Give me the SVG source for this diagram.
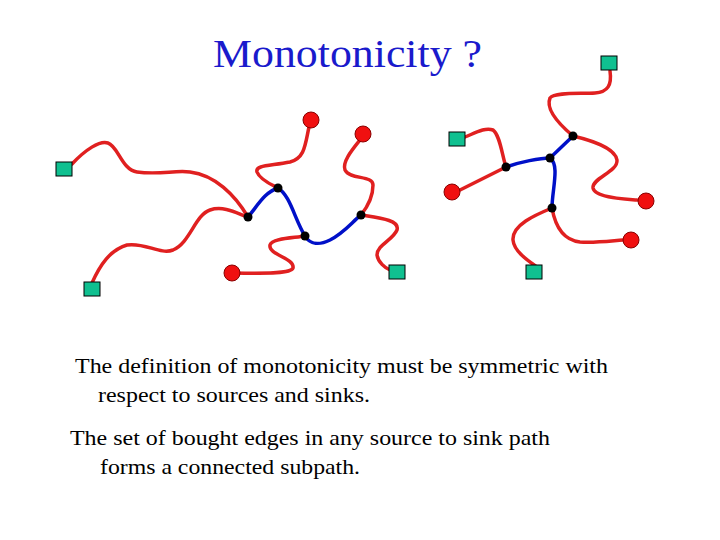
<svg xmlns="http://www.w3.org/2000/svg" width="720" height="540" viewBox="0 0 720 540">
<style>
.r{fill:none;stroke:#e02020;stroke-width:3.5;stroke-linecap:round}
.b{fill:none;stroke:#0010c8;stroke-width:3.5;stroke-linecap:round}
.sq{fill:#10c090;stroke:#000;stroke-width:1}
.ci{fill:#f01010;stroke:#800;stroke-width:1}
.j{fill:#000}
text{font-family:'Liberation Serif','Times New Roman','DejaVu Serif',serif}
.t{font-size:22px;fill:#000}
.h{font-size:40px;fill:#1a1acc}
</style>
<rect width="720" height="540" fill="#fff"/>
<text class="h" x="213" y="67" textLength="269" lengthAdjust="spacingAndGlyphs">Monotonicity ?</text>
<g id="connectors">
<path class="r" d="M72,164 C85,150 100,140 108,143 C118,146 122,170 137,172 C160,175 175,170 190,172 C215,175 235,195 248,217"/>
<path class="r" d="M92,283 C100,265 110,250 127,245 C145,242 160,255 173,250 C190,243 195,215 210,210 C225,205 240,215 248,217"/>
<path class="r" d="M309,127 C305,145 305,158 290,162 C270,166 255,165 257,172 C260,180 272,185 278,188"/>
<path class="r" d="M360,140 C352,150 342,162 345,170 C350,180 373,175 373,185 C373,200 365,210 361,215"/>
<path class="r" d="M361,215 C380,218 400,220 397,230 C393,240 377,245 377,255 C378,262 385,268 390,270"/>
<path class="r" d="M232,273 C255,273 290,275 293,268 C295,258 268,255 270,245 C272,238 295,238 305,236"/>
<path class="b" d="M248,217 C258,205 265,192 278,188 C290,195 295,220 305,236 C310,245 320,245 330,240 C345,232 352,222 361,215"/>
<path class="r" d="M610,71 C612,85 608,92 595,93 C580,94 555,92 550,98 C545,110 560,125 573,136"/>
<path class="r" d="M573,136 C590,140 615,148 617,160 C618,172 592,178 593,188 C595,198 625,199 637,200"/>
<path class="r" d="M465,137 C475,133 485,127 493,130 C500,135 502,155 506,167"/>
<path class="r" d="M460,190 L506,167"/>
<path class="b" d="M506,167 C520,162 540,158 550,158 L573,136 M550,158 C560,165 552,190 552,208"/>
<path class="r" d="M552,208 C535,215 512,225 513,240 C514,252 530,262 537,267"/>
<path class="r" d="M552,208 C555,225 562,240 580,242 C595,243 610,241 623,240"/>
</g>
<g id="nodes">
<g id="s1"><rect class="sq" x="56" y="162" width="16" height="14"/></g>
<g id="s2"><rect class="sq" x="84" y="282" width="16" height="14"/></g>
<g id="s3"><rect class="sq" x="389" y="265" width="16" height="14"/></g>
<g id="s4"><rect class="sq" x="601" y="56" width="16" height="14"/></g>
<g id="s5"><rect class="sq" x="449" y="132" width="16" height="14"/></g>
<g id="s6"><rect class="sq" x="526" y="265" width="16" height="14"/></g>
<g id="c1"><circle class="ci" cx="311" cy="120" r="8"/></g>
<g id="c2"><circle class="ci" cx="363" cy="134" r="8"/></g>
<g id="c3"><circle class="ci" cx="232" cy="273" r="8"/></g>
<g id="c4"><circle class="ci" cx="452" cy="192" r="8"/></g>
<g id="c5"><circle class="ci" cx="646" cy="201" r="8"/></g>
<g id="c6"><circle class="ci" cx="631" cy="240" r="8"/></g>
<g id="junctions">
<circle class="j" cx="248" cy="217" r="4.5"/><circle class="j" cx="278" cy="188" r="4.5"/>
<circle class="j" cx="305" cy="236" r="4.5"/><circle class="j" cx="361" cy="215" r="4.5"/>
<circle class="j" cx="506" cy="167" r="4.5"/><circle class="j" cx="550" cy="158" r="4.5"/>
<circle class="j" cx="573" cy="136" r="4.5"/><circle class="j" cx="552" cy="208" r="4.5"/>
</g>
</g>
<text class="t" x="75" y="373" textLength="533" lengthAdjust="spacingAndGlyphs">The definition of monotonicity must be symmetric with</text>
<text class="t" x="98" y="402" textLength="272" lengthAdjust="spacingAndGlyphs">respect to sources and sinks.</text>
<text class="t" x="70" y="445" textLength="480" lengthAdjust="spacingAndGlyphs">The set of bought edges in any source to sink path</text>
<text class="t" x="100" y="474" textLength="260" lengthAdjust="spacingAndGlyphs">forms a connected subpath.</text>
</svg>
